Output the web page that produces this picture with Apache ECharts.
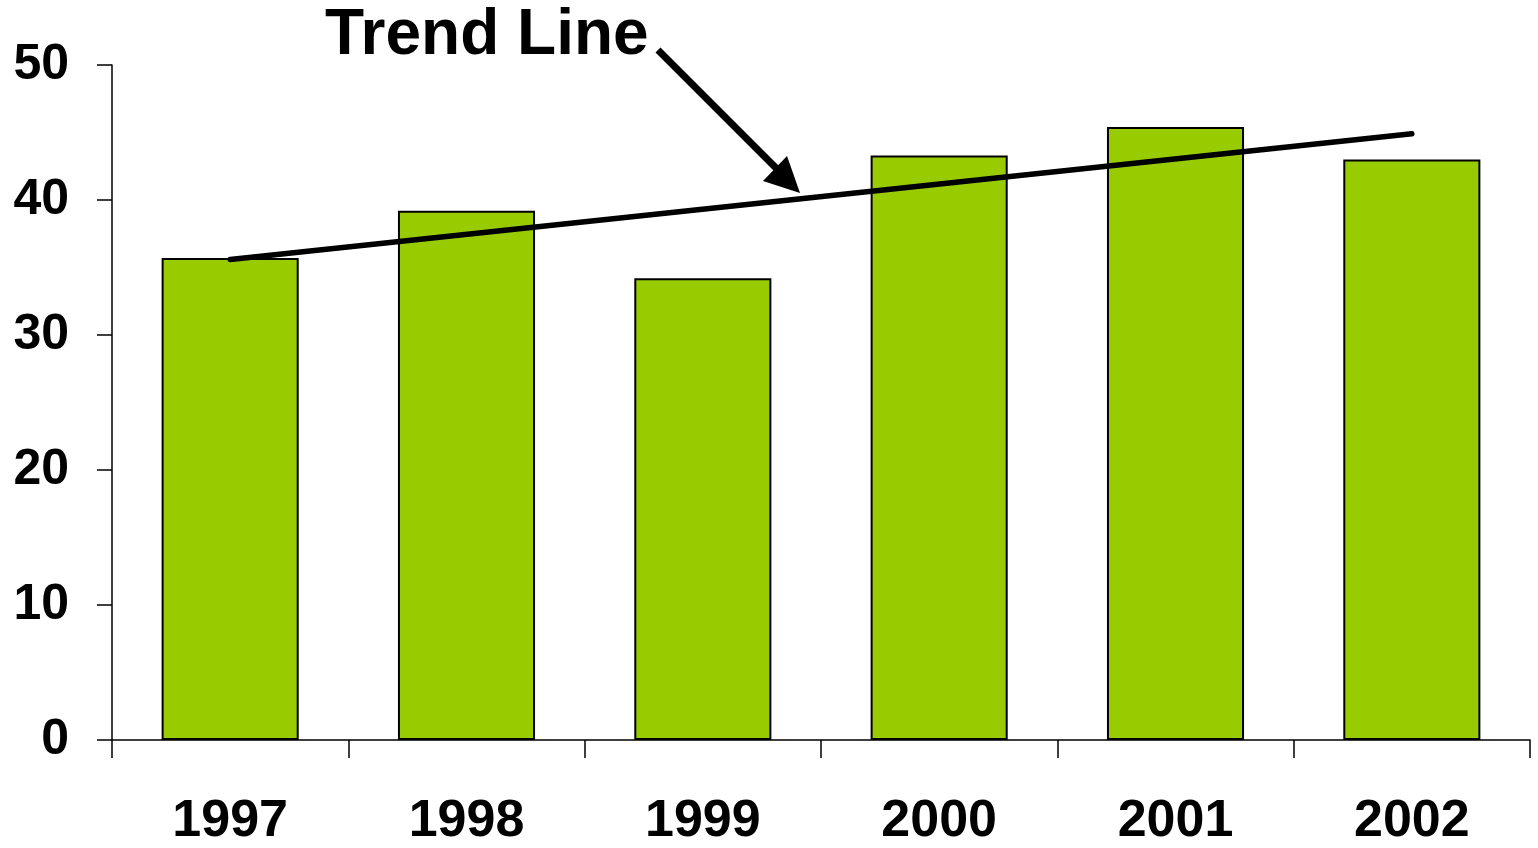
<!DOCTYPE html>
<html>
<head>
<meta charset="utf-8">
<script src="https://cdn.jsdelivr.net/npm/echarts@6/dist/echarts.min.js"></script>
<style>
html,body{margin:0;padding:0;background:#fff;}
#chart{width:1538px;height:848px;}
</style>
</head>
<body>
<div id="chart"></div>
<script>
var categories = ['1997', '1998', '1999', '2000', '2001', '2002'];
var values = [35.7, 39.2, 34.2, 43.3, 45.4, 43.0];
var trendValues = [35.6, null, null, null, null, 44.9];
var titleText = 'Trend Line';

var FONT = '"Liberation Sans", Arial, sans-serif';
var chart = echarts.init(document.getElementById('chart'), null, {renderer: 'canvas'});
chart.setOption({
  animation: false,
  backgroundColor: '#ffffff',
  title: {
    text: titleText,
    left: 325,
    top: 4,
    padding: 0,
    textStyle: {fontFamily: FONT, fontWeight: 'bold', fontSize: 64, color: '#000'}
  },
  grid: {left: 112, right: 8, top: 65, bottom: 101, containLabel: false},
  xAxis: {
    type: 'category',
    data: categories,
    boundaryGap: true,
    axisLine: {lineStyle: {color: '#000', width: 1.5}},
    axisTick: {show: true, length: 18, lineStyle: {color: '#000', width: 1.5}},
    axisLabel: {fontFamily: FONT, fontWeight: 'bold', fontSize: 52, color: '#000', margin: 56}
  },
  yAxis: {
    type: 'value',
    min: 0, max: 50, interval: 10,
    splitLine: {show: false},
    axisLine: {show: true, lineStyle: {color: '#000', width: 1.5}},
    axisTick: {show: true, length: 15, lineStyle: {color: '#000', width: 1.5}},
    axisLabel: {fontFamily: FONT, fontWeight: 'bold', fontSize: 50, color: '#000', margin: 43}
  },
  series: [
    {
      type: 'bar',
      data: values,
      barWidth: '58%',
      itemStyle: {color: '#99CC00', borderColor: '#000', borderWidth: 2}
    },
    {
      type: 'line',
      data: trendValues,
      connectNulls: true,
      symbol: 'none',
      lineStyle: {color: '#000', width: 5.5, cap: 'round'},
      z: 5
    }
  ],
  graphic: [
    {
      type: 'line',
      shape: {x1: 658, y1: 50, x2: 780, y2: 172},
      style: {stroke: '#000', lineWidth: 7}
    },
    {
      type: 'polygon',
      shape: {points: [[763, 181], [800, 193], [787, 156]]},
      style: {fill: '#000'}
    }
  ]
});
</script>
</body>
</html>
